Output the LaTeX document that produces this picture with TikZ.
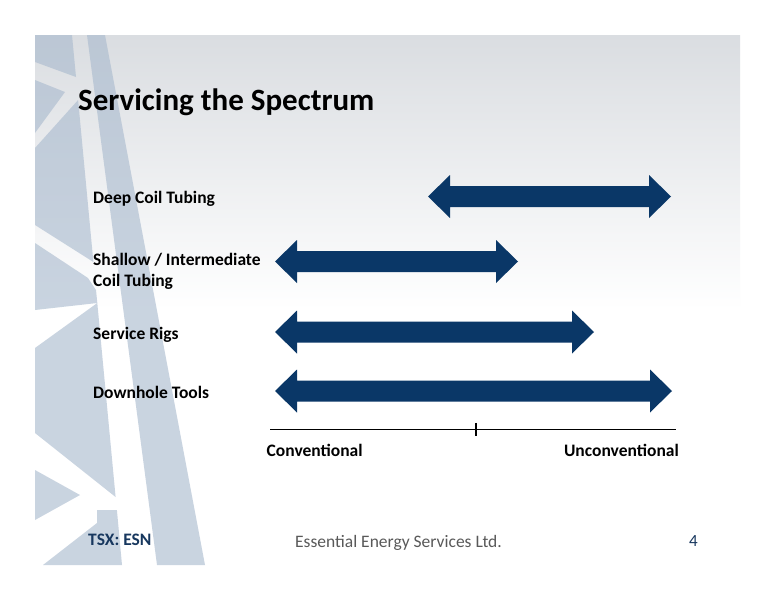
\documentclass[tikz,border=0pt]{standalone}
\usepackage{fontspec}
\setmainfont{Carlito}
\usetikzlibrary{calc}
\definecolor{navy}{HTML}{0A3767}
\definecolor{deco}{HTML}{A9BACE}
\definecolor{topgrey}{HTML}{DADDE1}
\definecolor{footgrey}{HTML}{595959}
\definecolor{tsxblue}{HTML}{17375E}
\newcommand\DArr[2]{\fill[arrowc] (#1) -- ($(#1)+(22,-21.5)$) -- ($(#1)+(22,-10.5)$) -- ($(#2)+(-22,-10.5)$) -- ($(#2)+(-22,-21.5)$) -- (#2) -- ($(#2)+(-22,21.5)$) -- ($(#2)+(-22,10.5)$) -- ($(#1)+(22,10.5)$) -- ($(#1)+(22,21.5)$) -- cycle;}
\begin{document}
\begin{tikzpicture}[x=1pt,y=-1pt,
  arrowc/.style={fill=navy},
  decofill/.style={fill=deco,fill opacity=0.62},
  lbl/.style={anchor=base west,inner sep=0pt,font=\bfseries\fontsize{17.5}{21}\selectfont,align=left},
  axlbl/.style={anchor=base west,inner sep=0pt,font=\bfseries\fontsize{17.5}{21}\selectfont}]
\useasboundingbox (0,0) rectangle (776,600);
\fill[white] (0,0) rectangle (776,600);
% slide background
\shade[top color=topgrey,bottom color=white] (35,35) rectangle (740,310);
\fill[white] (35,310) rectangle (740,565);
% decorative lattice
\fill[decofill]
  (35,35) -- (72,35) -- (76,77) -- (35,62) -- cycle
  (35,80) -- (65,92) -- (35,133) -- cycle
  (35,148) -- (78.1,100) -- (93.4,262) -- (35,225) -- cycle
  (35,243) -- (88,278) -- (96,290) -- (97.3,303) -- (35,310) -- cycle
  (35,348) -- (97.3,303) -- (115.6,497) -- (35,433) -- cycle
  (35,470) -- (80,495) -- (35,520) -- cycle
  (43,565) -- (97,523) -- (97,510) -- (116.9,510) -- (122,565) -- cycle
  (87,35) -- (105,35) -- (205,565) -- (157,565) -- cycle;
% title
\node[anchor=base west,inner sep=0pt,font=\bfseries\fontsize{31}{37}\selectfont] (title) at (78,110) {Servicing the Spectrum};
% row labels
\node[lbl] (deep) at (93,203.5) {Deep Coil Tubing};
\node[lbl] (shallow) at (93,286) {Shallow / Intermediate\\Coil Tubing};
\node[lbl] (rigs) at (93,339) {Service Rigs};
\node[lbl] (tools) at (93,398) {Downhole Tools};
% arrows
\coordinate (a1l) at (428,196.5); \coordinate (a1r) at (671,196.5);
\coordinate (a2l) at (275,261.5); \coordinate (a2r) at (518,261.5);
\coordinate (a3l) at (275,332);   \coordinate (a3r) at (594,332);
\coordinate (a4l) at (275,391);   \coordinate (a4r) at (672,391);
\DArr{a1l}{a1r}
\DArr{a2l}{a2r}
\DArr{a3l}{a3r}
\DArr{a4l}{a4r}
% axis
\coordinate (axl) at (270,429.3);
\coordinate (axr) at (676,429.3);
\coordinate (tk) at (476,429.3);
\draw[line width=1.3pt,black] (axl) -- (axr);
\draw[line width=1.3pt,black] ($(tk)+(0,-6.5)$) -- ($(tk)+(0,6.5)$);
\node[axlbl] (conv) at (266.5,456.7) {Conventional};
\node[axlbl,anchor=base east] (unconv) at (679,456.7) {Unconventional};
% footer
\node[anchor=base west,inner sep=0pt,text=tsxblue,font=\bfseries\fontsize{17.5}{21}\selectfont] (tsx) at (88,545.5) {TSX: ESN};
\node[anchor=base west,inner sep=0pt,text=footgrey,font=\fontsize{17.5}{21}\selectfont] (company) at (295,547) {Essential Energy Services Ltd.};
\node[anchor=base west,inner sep=0pt,text=tsxblue,font=\fontsize{17}{20}\selectfont] (page) at (689,546) {4};
\end{tikzpicture}
\end{document}
